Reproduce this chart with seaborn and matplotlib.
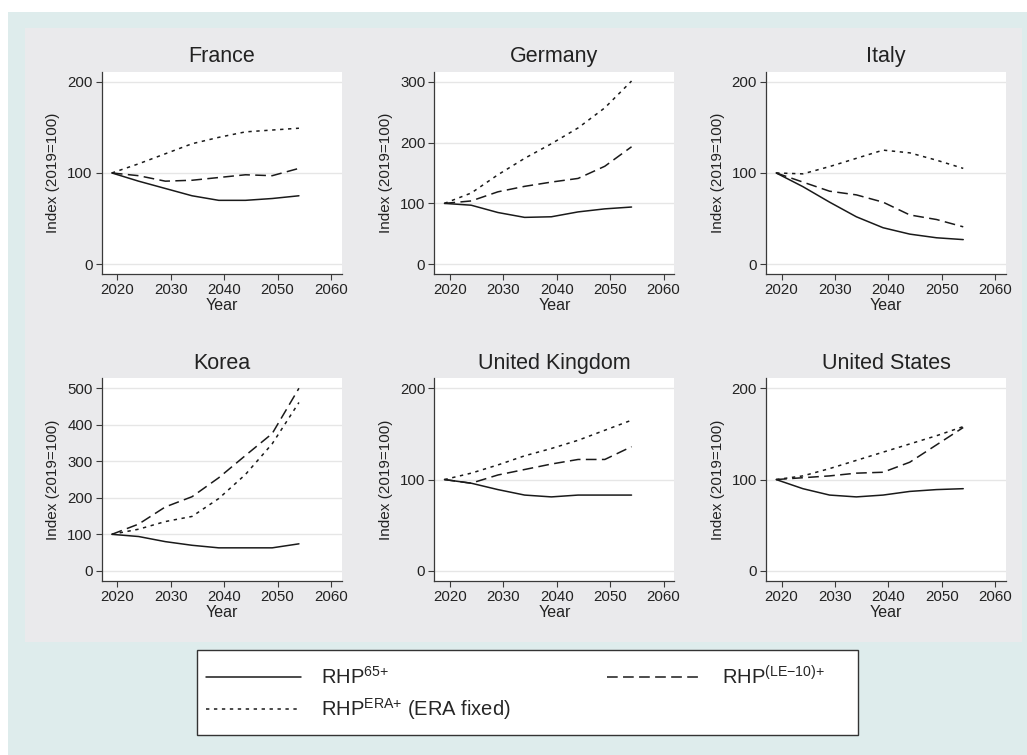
import numpy as np
import pandas as pd
import matplotlib.pyplot as plt
import seaborn as sns
from matplotlib.lines import Line2D
from matplotlib.patches import Rectangle

# 年份（每5年一个点）
years = [2019, 2024, 2029, 2034, 2039, 2044, 2049, 2054]

# 各国三条序列: 65+, (LE-10)+, ERA+ (ERA fixed)
france_65 = [100, 91, 83, 75, 70, 70, 72, 75]
france_le = [100, 97, 91, 92, 95, 98, 97, 105]
france_era = [100, 110, 121, 132, 139, 145, 147, 149]

germany_65 = [100, 97, 85, 77, 78, 86, 91, 94]
germany_le = [100, 104, 119, 128, 135, 141, 161, 193]
germany_era = [100, 117, 147, 174, 198, 224, 257, 301]

italy_65 = [100, 85, 68, 52, 40, 33, 29, 27]
italy_le = [100, 90, 80, 76, 68, 54, 49, 41]
italy_era = [100, 99, 107, 116, 125, 122, 114, 105]

korea_65 = [100, 94, 80, 70, 63, 63, 63, 74]
korea_le = [100, 128, 175, 203, 255, 316, 376, 500]
korea_era = [100, 114, 135, 149, 198, 264, 348, 461]

uk_65 = [100, 96, 89, 83, 81, 83, 83, 83]
uk_le = [100, 96, 105, 111, 117, 122, 122, 136]
uk_era = [100, 107, 116, 126, 134, 143, 154, 165]

us_65 = [100, 90, 83, 81, 83, 87, 89, 90]
us_le = [100, 102, 104, 107, 108, 119, 138, 157]
us_era = [100, 104, 112, 121, 130, 139, 148, 158]

countries = ["France", "Germany", "Italy", "Korea", "United Kingdom", "United States"]
series_data = {
    "France": (france_65, france_le, france_era),
    "Germany": (germany_65, germany_le, germany_era),
    "Italy": (italy_65, italy_le, italy_era),
    "Korea": (korea_65, korea_le, korea_era),
    "United Kingdom": (uk_65, uk_le, uk_era),
    "United States": (us_65, us_le, us_era),
}
series_names = ["65", "LE", "ERA"]
y_ticks = {
    "France": [0, 100, 200],
    "Germany": [0, 100, 200, 300],
    "Italy": [0, 100, 200],
    "Korea": [0, 100, 200, 300, 400, 500],
    "United Kingdom": [0, 100, 200],
    "United States": [0, 100, 200],
}
x_ticks = [2020, 2030, 2040, 2050, 2060]

sns.set_style("white")
plt.rcParams['font.family'] = ['Liberation Sans', 'DejaVu Sans']
plt.rcParams['mathtext.default'] = 'regular'

W, H = 1027, 755
fig = plt.figure(figsize=(W / 100, H / 100), dpi=100, facecolor="white")

# 背景框
fig.patches.append(Rectangle((8 / W, 0), 1 - 8 / W, 1 - 12 / H, transform=fig.transFigure,
                             facecolor="#DEECEC", edgecolor="none", zorder=-10))
fig.patches.append(Rectangle((25 / W, 1 - 642 / H), (1022 - 25) / W, (642 - 28) / H,
                             transform=fig.transFigure, facecolor="#EAEAEC",
                             edgecolor="none", zorder=-9))

dash_map = {"65": "", "LE": (7, 3.5), "ERA": (2.2, 3)}

col_left = [101.7, 434.3, 766.0]
row_top = [71.7, 378.3]
ax_w, ax_h = 240.0, 202.5
txt = "#222222"

for i, country in enumerate(countries):
    r, c = divmod(i, 3)
    left = col_left[c]
    top = row_top[r]
    ax = fig.add_axes([left / W, 1 - (top + ax_h) / H, ax_w / W, ax_h / H])
    ax.set_facecolor("white")

    vals = series_data[country]
    df = pd.DataFrame({
        "Year": years * 3,
        "value": vals[0] + vals[1] + vals[2],
        "series": sum([[s] * len(years) for s in series_names], []),
    })
    sns.lineplot(data=df, x="Year", y="value", style="series", dashes=dash_map,
                 color="#1a1a1a", linewidth=1.1, ax=ax, legend=False)

    yt = y_ticks[country]
    span = yt[-1] - yt[0]
    pad = span * 0.0545
    ax.set_ylim(yt[0] - pad, yt[-1] + pad)
    ax.set_xlim(2017.1, 2062)
    ax.set_yticks(yt)
    ax.set_xticks(x_ticks)
    ax.yaxis.grid(True, color="#E6E6E6", linewidth=1.0)
    ax.set_axisbelow(True)
    for s in ["top", "right"]:
        ax.spines[s].set_visible(False)
    for s in ["left", "bottom"]:
        ax.spines[s].set_color("#3a3a3a")
        ax.spines[s].set_linewidth(0.9)
    ax.tick_params(axis="both", direction="out", length=4, width=0.8, color="#3a3a3a",
                   labelsize=10.8, labelcolor=txt, pad=2.5, left=True, bottom=True)
    ax.set_title(country, fontsize=15.5, color=txt, pad=7)
    ax.set_xlabel("Year", fontsize=11.5, color=txt, labelpad=0.5)
    ax.set_ylabel("Index (2019=100)", fontsize=11, color=txt, labelpad=5)

handles = [
    Line2D([], [], color="#1a1a1a", linewidth=1.1, linestyle="-"),
    Line2D([], [], color="#1a1a1a", linewidth=1.1, linestyle=(0, (2.2, 3))),
    Line2D([], [], color="#1a1a1a", linewidth=1.1, linestyle=(0, (7, 3.5))),
]
labels = [r"RHP$^{65{+}}$", r"RHP$^{ERA{+}}$ (ERA fixed)", r"RHP$^{(LE{-}10){+}}$"]
fig.legend(handles, labels, loc="upper left", ncol=2,
           bbox_to_anchor=(206 / W, 1 - 665 / H),
           borderaxespad=0, fontsize=14.5, handlelength=4.7, handletextpad=1.0,
           labelspacing=0.38, columnspacing=4.8, frameon=False, borderpad=0.0)

# 图例外框
fig.patches.append(Rectangle((197 / W, 1 - 735 / H), (858 - 197) / W, (735 - 650) / H,
                             transform=fig.transFigure, facecolor="white",
                             edgecolor="#333333", linewidth=1.0, zorder=-5))

fig.savefig("out.png", dpi=100, facecolor="white")
